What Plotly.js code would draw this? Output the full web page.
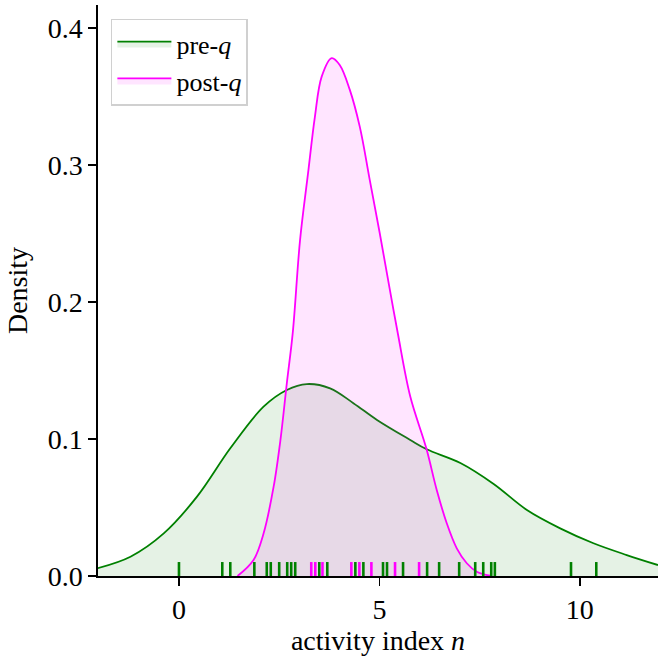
<!DOCTYPE html>
<html>
<head>
<meta charset="utf-8">
<script src="https://cdn.plot.ly/plotly-3.0.1.min.js"></script>
<style>html,body{margin:0;padding:0;background:#fff;}</style>
</head>
<body>
<div id="chart" style="width:658px;height:658px;"></div>
<script>
// Density curve of pre-q
const preX = [-2.04, -1.21, -0.38, 0.45, 1.28, 2.11, 2.69, 3.19, 3.77, 4.36, 4.94, 5.77, 6.18, 7.02, 7.85, 8.68, 9.51, 10.34, 11.17, 11.95];
const preY = [0.0056, 0.0141, 0.0311, 0.0579, 0.0932, 0.1236, 0.1358, 0.1401, 0.1370, 0.1260, 0.1139, 0.0993, 0.0925, 0.0825, 0.0672, 0.0482, 0.0348, 0.0239, 0.0153, 0.0080];
// Density curve of post-q
const postX = [1.46, 1.86, 2.11, 2.36, 2.53, 2.69, 2.84, 3.02, 3.22, 3.39, 3.56, 3.81, 4.01, 4.26, 4.51, 4.76, 5.01, 5.26, 5.46, 5.77, 6.17, 6.43, 6.68, 6.93, 7.18, 7.43, 7.76];
const postY = [0.0, 0.0117, 0.031, 0.065, 0.099, 0.1405, 0.178, 0.245, 0.294, 0.335, 0.3645, 0.378, 0.373, 0.355, 0.328, 0.289, 0.250, 0.209, 0.177, 0.131, 0.0932, 0.0628, 0.0385, 0.0202, 0.0093, 0.0031, 0.0002];
// Rug observations
const preRug = [0.0, 1.08, 1.28, 1.88, 2.19, 2.29, 2.50, 2.70, 2.80, 2.90, 3.50, 3.70, 4.40, 4.60, 5.09, 5.19, 5.59, 6.19, 6.49, 6.99, 7.39, 7.59, 7.79, 7.88, 9.78, 10.41];
const postRug = [3.30, 3.40, 3.58, 4.30, 4.50, 4.80, 5.39, 5.99];
const xTicks = [0, 5, 10];
const yTicks = [0.0, 0.1, 0.2, 0.3, 0.4];
const yTickText = ['0.0', '0.1', '0.2', '0.3', '0.4'];

const GREEN = '#008000', MAG = '#ff00ff';
const RUG_H = 0.0102;

function rugSegs(vals) {
  const xs = [], ys = [];
  vals.forEach(v => { xs.push(v, v, null); ys.push(0, RUG_H, null); });
  return {x: xs, y: ys};
}
const rp = rugSegs(preRug), rq = rugSegs(postRug);

const traces = [
  {x: preX, y: preY, type: 'scatter', mode: 'lines', name: 'pre-<i>q</i>',
   line: {color: GREEN, width: 1.8, shape: 'spline', smoothing: 1},
   fill: 'tozeroy', fillcolor: 'rgba(0,128,0,0.1)'},
  {x: postX, y: postY, type: 'scatter', mode: 'lines', name: 'post-<i>q</i>',
   line: {color: MAG, width: 1.8, shape: 'spline', smoothing: 1},
   fill: 'tozeroy', fillcolor: 'rgba(255,0,255,0.1)'},
  {x: rp.x, y: rp.y, type: 'scatter', mode: 'lines', showlegend: false,
   line: {color: GREEN, width: 2.6}, hoverinfo: 'skip'},
  {x: rq.x, y: rq.y, type: 'scatter', mode: 'lines', showlegend: false,
   line: {color: MAG, width: 2.6}, hoverinfo: 'skip'}
];

const font = {family: '"Liberation Serif", "DejaVu Serif", serif', color: '#000'};
const layout = {
  width: 658, height: 658,
  margin: {l: 98, r: 0, t: 5, b: 82, pad: 0},
  paper_bgcolor: '#fff', plot_bgcolor: '#fff',
  font: Object.assign({size: 28}, font),
  showlegend: true,
  legend: {x: 0.023, y: 0.976, xanchor: 'left', yanchor: 'top',
    bgcolor: 'rgba(255,255,255,0.8)', bordercolor: '#d0d0d0', borderwidth: 1.5,
    font: Object.assign({size: 26}, font), itemwidth: 54, tracegroupgap: 6},
  xaxis: {range: [-2.02, 11.95], tickvals: xTicks, ticks: 'outside', ticklen: 8, tickwidth: 1.6,
    tickcolor: '#000', showline: true, linecolor: '#000', linewidth: 1.6, showgrid: false, zeroline: false,
    tickfont: Object.assign({size: 28}, font),
    title: {text: 'activity index <i>n</i>', font: Object.assign({size: 28}, font), standoff: 6}},
  yaxis: {range: [0, 0.4168], tickvals: yTicks, ticktext: yTickText, ticks: 'outside', ticklen: 8, tickwidth: 1.6,
    tickcolor: '#000', showline: true, linecolor: '#000', linewidth: 1.6, showgrid: false, zeroline: false,
    tickfont: Object.assign({size: 28}, font),
    title: {text: 'Density', font: Object.assign({size: 28}, font), standoff: 12}}
};
Plotly.newPlot('chart', traces, layout, {displayModeBar: false, staticPlot: true});
</script>
</body>
</html>
